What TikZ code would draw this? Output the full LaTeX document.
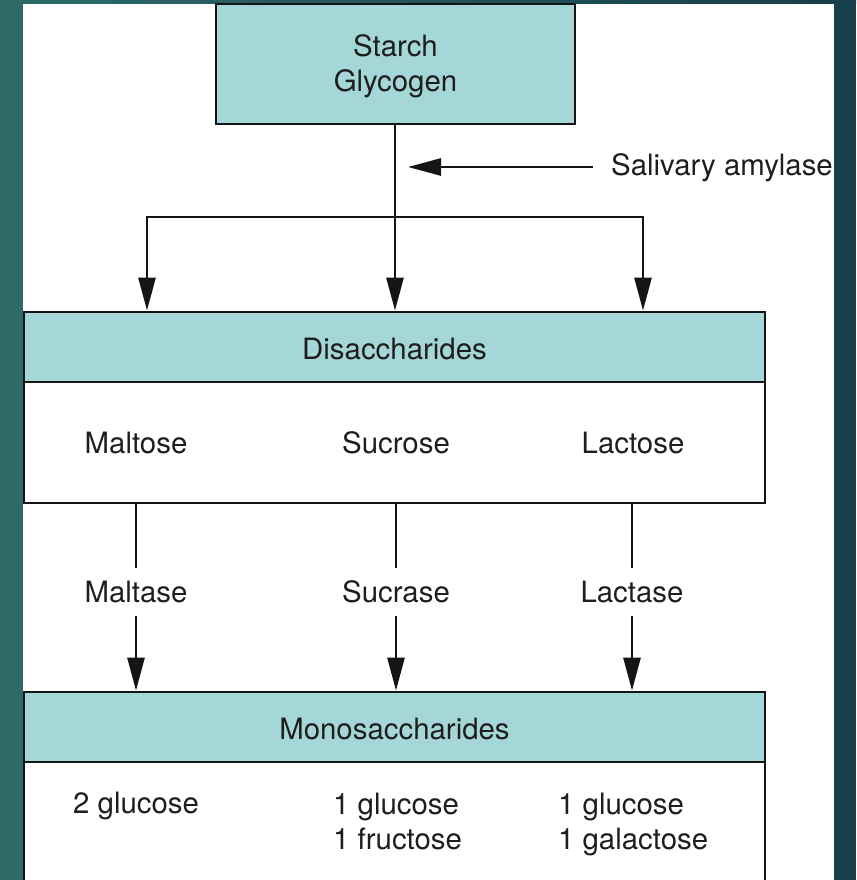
\documentclass[tikz,border=0pt]{standalone}
\usepackage{fontspec}
\setmainfont{TeX Gyre Heros}
\usetikzlibrary{arrows.meta,positioning}
\definecolor{boxfill}{HTML}{A6D7D8}
\definecolor{stripL}{HTML}{2E6A68}
\definecolor{stripR}{HTML}{163E4B}
\definecolor{txt}{HTML}{1E1E1E}
\definecolor{ln}{HTML}{151515}
\tikzset{
  lbl/.style={font=\fontsize{29.4}{35}\selectfont, text=txt, inner sep=0pt},
  hdrbox/.style={draw=ln, line width=2.8pt, fill=boxfill, minimum width=741pt, minimum height=70pt, inner sep=0pt},
  bodybox/.style={draw=ln, line width=2.8pt, fill=white, minimum width=741pt, inner sep=0pt},
  conn/.style={draw=ln, line width=2.7pt},
  arr/.style={conn, -{Triangle[length=33pt,width=17pt]}},
  enz/.style={lbl, minimum height=48pt},
}
\begin{document}
\begin{tikzpicture}[x=1pt,y=-1pt]
\useasboundingbox (0,0) rectangle (856,880);
\clip (0,0) rectangle (856,880);
% background
\fill[white] (0,0) rectangle (856,880);
\fill[stripL] (0,0) rectangle (23,880);
\fill[stripR] (834,0) rectangle (856,880);
\shade[left color=stripL, right color=stripR] (0,0) rectangle (856,3.5);
% starch box
\node[draw=ln, line width=2.8pt, fill=boxfill, minimum width=359pt, minimum height=120pt, inner sep=0pt] (starch) at (395.5,64) {};
\node[lbl, align=center] (starchtxt) at (395.5,66.5) {Starch\\[0pt]Glycogen};
% disaccharides
\node[bodybox, minimum height=121pt] (dbody) at (394.5,442.5) {};
\node[hdrbox] (dhead) at (394.5,347) {};
\node[lbl] (dtxt) at (394.5,349) {Disaccharides};
\node[lbl] (maltose) at (136,443) {Maltose};
\node[lbl] (sucrose) at (396,443) {Sucrose};
\node[lbl] (lactose) at (633,443) {Lactose};
% monosaccharides
\node[bodybox, minimum height=140pt] (mbody) at (394.5,832) {};
\node[hdrbox] (mhead) at (394.5,727) {};
\node[lbl] (mtxt) at (394.5,729) {Monosaccharides};
\node[lbl, anchor=west] (glu2) at (73,806) {2 glucose};
\node[lbl, anchor=north west, align=left] (glufru) at (333,793) {1 glucose\\[0pt]1 fructose};
\node[lbl, anchor=north west, align=left] (glugal) at (558,793) {1 glucose\\[0pt]1 galactose};
% enzymes
\node[enz] (maltase) at (136,592) {Maltase};
\node[enz] (sucrase) at (396,592) {Sucrase};
\node[enz] (lactase) at (632,592) {Lactase};
\node[lbl, anchor=west] (amylase) at (611,168) {Salivary amylase};
% branch
\coordinate (bl) at (147,217);
\coordinate (bm) at (395,217);
\coordinate (br) at (643,217);
\coordinate (amyend) at (593,167);
\coordinate (amytip) at (408,167);
\draw[arr] (starch.south -| bm) -- (dhead.north -| bm);
\draw[arr] (bm) -- (bl) -- (dhead.north -| bl);
\draw[arr] (bm) -- (br) -- (dhead.north -| br);
\draw[arr] (amyend) -- (amytip);
% lower connectors
\draw[conn] (dbody.south -| maltase) -- (maltase.north);
\draw[arr] (maltase.south) -- (mhead.north -| maltase);
\draw[conn] (dbody.south -| sucrase) -- (sucrase.north);
\draw[arr] (sucrase.south) -- (mhead.north -| sucrase);
\draw[conn] (dbody.south -| lactase) -- (lactase.north);
\draw[arr] (lactase.south) -- (mhead.north -| lactase);
\end{tikzpicture}
\end{document}
